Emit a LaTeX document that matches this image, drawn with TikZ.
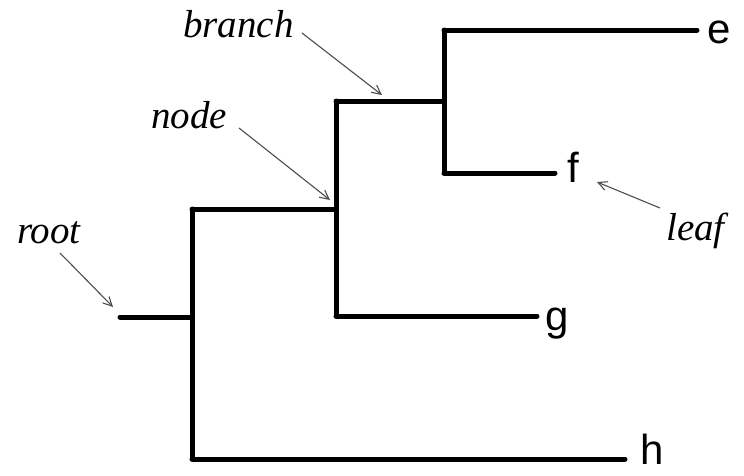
\documentclass[tikz,border=0pt]{standalone}
\usepackage{fontspec}
\setmainfont{Liberation Serif}
\newfontfamily\leaffont{Liberation Sans}
\usetikzlibrary{arrows.meta}
\begin{document}
\begin{tikzpicture}[x=1pt,y=-1pt,
  edge/.style={line width=5pt,line cap=round,line join=round,black},
  pointer/.style={line width=1.1pt,draw=black!70,-{Straight Barb[length=9pt,width=9pt]}},
  leaflabel/.style={anchor=base west,inner sep=0pt,font=\leaffont\fontsize{42}{42}\selectfont},
  termlabel/.style={anchor=base west,inner sep=0pt,font=\itshape\fontsize{39}{39}\selectfont}]
\useasboundingbox (0,0) rectangle (744,475);
% internal points
\coordinate (r0) at (120,317);
\coordinate (r) at (192,317);
\coordinate (n1) at (192,209);
\coordinate (n1b) at (192,459);
\coordinate (a) at (336,209);
\coordinate (a1) at (336,101);
\coordinate (a2) at (336,316);
\coordinate (b) at (444,101);
\coordinate (b1) at (444,30);
\coordinate (b2) at (444,173);
\coordinate (ee) at (697,30);
\coordinate (fe) at (555,173);
\coordinate (ge) at (537,316);
\coordinate (he) at (625,459);
% tree
\draw[edge] (r0) -- (r);
\draw[edge] (n1) -- (n1b);
\draw[edge] (n1) -- (a);
\draw[edge] (n1b) -- (he);
\draw[edge] (a1) -- (a2);
\draw[edge] (a2) -- (ge);
\draw[edge] (a1) -- (b);
\draw[edge] (b1) -- (b2);
\draw[edge] (b1) -- (ee);
\draw[edge] (b2) -- (fe);
% leaf labels
\node[leaflabel] (e) at (707,43) {e};
\node[leaflabel] (f) at (567,182) {f};
\node[leaflabel] (g) at (545,330) {g};
\node[leaflabel] (h) at (640,464) {h};
% term labels
\node[termlabel] (troot) at (17,243) {root};
\node[termlabel] (tbranch) at (183,37) {branch};
\node[termlabel] (tnode) at (151,128) {node};
\node[termlabel] (tleaf) at (666,240) {leaf};
% pointers
\coordinate (prs) at (60,253);   \coordinate (pre) at (113,307);
\coordinate (pbs) at (302,33);   \coordinate (pbe) at (382,95);
\coordinate (pns) at (239,128);  \coordinate (pne) at (330,200);
\coordinate (pls) at (660,208);  \coordinate (ple) at (597,182);
\draw[pointer] (prs) -- (pre);
\draw[pointer] (pbs) -- (pbe);
\draw[pointer] (pns) -- (pne);
\draw[pointer] (pls) -- (ple);
\end{tikzpicture}
\end{document}
